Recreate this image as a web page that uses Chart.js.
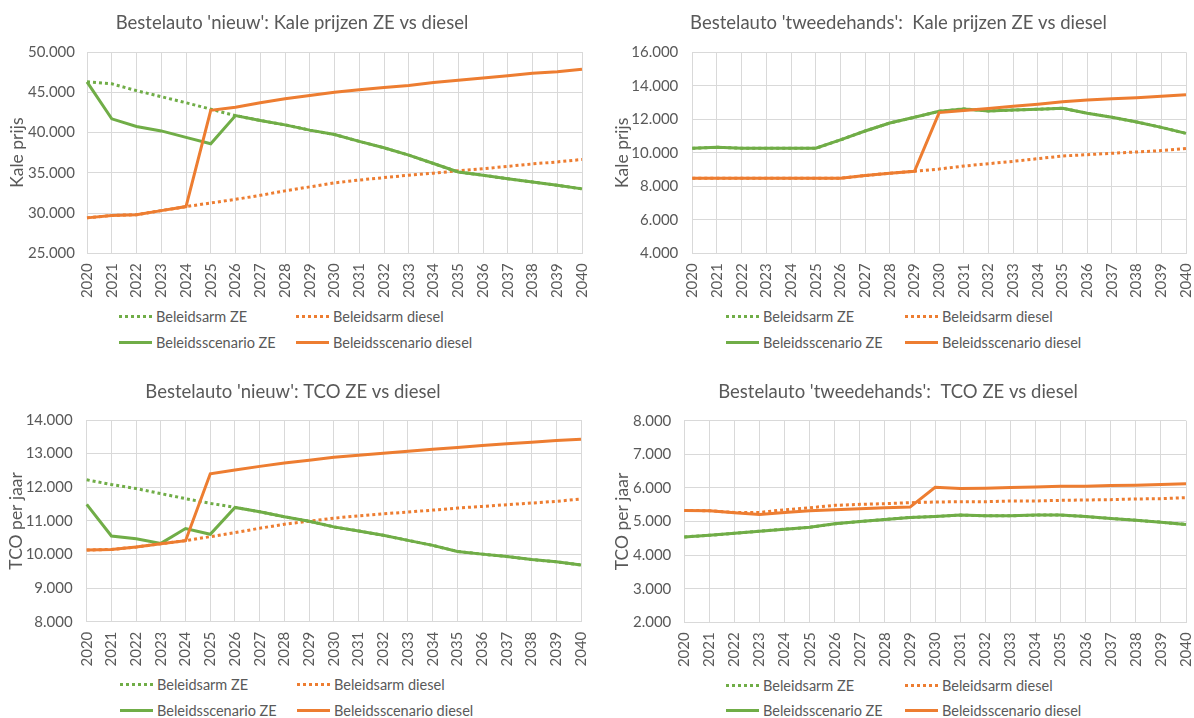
<!DOCTYPE html>
<html>
<head>
<meta charset="utf-8">
<script src="https://cdn.jsdelivr.net/npm/chart.js@4.4.1/dist/chart.umd.min.js"></script>
<style>
  body { margin: 0; background: #fff; font-family: Lato, sans-serif; }
  #page { position: relative; width: 1194px; height: 718px; overflow: hidden; background: #fff; }
  canvas { position: absolute; }
  .legend-item { position: absolute; display: flex; align-items: center; height: 20px;
                 font-size: 14.5px; color: #595959; white-space: nowrap; }
  .swatch { width: 33px; height: 3px; margin-right: 4px; }
</style>
</head>
<body>
<div id="page"></div>
<script>
const years = ["2020","2021","2022","2023","2024","2025","2026","2027","2028","2029","2030",
               "2031","2032","2033","2034","2035","2036","2037","2038","2039","2040"];

const seriesNames = ["Beleidsarm ZE", "Beleidsarm diesel", "Beleidsscenario ZE", "Beleidsscenario diesel"];

// Bestelauto 'nieuw': kale prijzen
const nieuwPrijsArmZE      = [46300, 46050, 45200, 44450, 43700, 42900, 42100, 41500, 40950, 40300, 39750, 38900, 38100, 37200, 36150, 35100, 34700, 34250, 33850, 33450, 33000];
const nieuwPrijsArmDiesel  = [29400, 29700, 29800, 30300, 30800, 31250, 31700, 32200, 32750, 33250, 33750, 34100, 34400, 34700, 34950, 35250, 35500, 35800, 36100, 36350, 36650];
const nieuwPrijsScenZE     = [46300, 41700, 40750, 40200, 39400, 38600, 42100, 41500, 40950, 40300, 39750, 38900, 38100, 37200, 36150, 35100, 34700, 34250, 33850, 33450, 33000];
const nieuwPrijsScenDiesel = [29400, 29700, 29800, 30300, 30800, 42750, 43150, 43700, 44200, 44600, 45000, 45300, 45600, 45850, 46200, 46480, 46770, 47050, 47350, 47550, 47850];

// Bestelauto 'tweedehands': kale prijzen
const tweedePrijsArmZE      = [10270, 10330, 10270, 10270, 10270, 10270, 10770, 11300, 11780, 12120, 12480, 12620, 12500, 12550, 12600, 12660, 12360, 12120, 11840, 11520, 11160];
const tweedePrijsArmDiesel  = [8480, 8480, 8480, 8480, 8480, 8480, 8480, 8640, 8780, 8900, 9030, 9210, 9350, 9490, 9650, 9810, 9890, 9970, 10050, 10130, 10250];
const tweedePrijsScenZE     = [10270, 10330, 10270, 10270, 10270, 10270, 10770, 11300, 11780, 12120, 12480, 12620, 12500, 12550, 12600, 12660, 12360, 12120, 11840, 11520, 11160];
const tweedePrijsScenDiesel = [8480, 8480, 8480, 8480, 8480, 8480, 8480, 8640, 8780, 8900, 12400, 12520, 12640, 12780, 12900, 13050, 13150, 13230, 13290, 13370, 13470];

// Bestelauto 'nieuw': TCO
const nieuwTcoArmZE      = [12220, 12080, 11960, 11810, 11660, 11520, 11400, 11270, 11120, 10990, 10820, 10700, 10570, 10420, 10270, 10090, 10010, 9940, 9850, 9780, 9690];
const nieuwTcoArmDiesel  = [10130, 10150, 10220, 10320, 10410, 10530, 10650, 10780, 10900, 10990, 11080, 11150, 11210, 11260, 11320, 11380, 11430, 11480, 11530, 11580, 11650];
const nieuwTcoScenZE     = [11490, 10550, 10470, 10330, 10770, 10600, 11400, 11270, 11120, 10990, 10820, 10700, 10570, 10420, 10270, 10090, 10010, 9940, 9850, 9780, 9690];
const nieuwTcoScenDiesel = [10130, 10150, 10220, 10320, 10410, 12400, 12510, 12620, 12720, 12800, 12890, 12950, 13010, 13070, 13130, 13180, 13240, 13290, 13340, 13390, 13430];

// Bestelauto 'tweedehands': TCO
const tweedeTcoArmZE      = [4540, 4590, 4650, 4710, 4770, 4830, 4930, 5000, 5060, 5120, 5150, 5190, 5170, 5170, 5190, 5190, 5150, 5090, 5040, 4980, 4910];
const tweedeTcoArmDiesel  = [5330, 5320, 5270, 5270, 5350, 5410, 5480, 5510, 5530, 5560, 5580, 5590, 5590, 5610, 5610, 5630, 5640, 5650, 5670, 5680, 5710];
const tweedeTcoScenZE     = [4540, 4590, 4650, 4710, 4770, 4830, 4930, 5000, 5060, 5120, 5150, 5190, 5170, 5170, 5190, 5190, 5150, 5090, 5040, 4980, 4910];
const tweedeTcoScenDiesel = [5330, 5320, 5260, 5210, 5270, 5320, 5350, 5380, 5410, 5430, 6020, 5980, 5990, 6010, 6030, 6050, 6050, 6070, 6080, 6100, 6120];

const GREEN = "#70ad47";
const ORANGE = "#ed7d31";
const TEXT = "#595959";
const GRID = "#d9d9d9";
const FONT = "Lato";

const panels = [
  {
    title: "Bestelauto 'nieuw': Kale prijzen ZE vs diesel", yTitle: "Kale prijs",
    min: 25000, max: 50000, step: 5000,
    data: [nieuwPrijsArmZE, nieuwPrijsArmDiesel, nieuwPrijsScenZE, nieuwPrijsScenDiesel],
    left: 2, top: 0, width: 590, height: 300, padRight: 10,
    yWidth: 85, xHeight: 46.7, titleTop: 11.9, titleBottom: 17.9, yTitlePad: 4.8, tickPad: 12,
    legendRows: [316, 342], legendCols: [119, 296]
  },
  {
    title: "Bestelauto 'tweedehands':  Kale prijzen ZE vs diesel", yTitle: "Kale prijs",
    min: 4000, max: 16000, step: 2000,
    data: [tweedePrijsArmZE, tweedePrijsArmDiesel, tweedePrijsScenZE, tweedePrijsScenDiesel],
    left: 611, top: 0, width: 582.7, height: 300, padRight: 8,
    yWidth: 81.3, xHeight: 46.7, titleTop: 11.9, titleBottom: 18.2, yTitlePad: 0.8, tickPad: 14,
    legendRows: [316, 342], legendCols: [726, 905]
  },
  {
    title: "Bestelauto 'nieuw': TCO ZE vs diesel", yTitle: "TCO per jaar",
    min: 8000, max: 14000, step: 1000,
    data: [nieuwTcoArmZE, nieuwTcoArmDiesel, nieuwTcoScenZE, nieuwTcoScenDiesel],
    left: 5, top: 370, width: 586, height: 300, padRight: 10,
    yWidth: 81.7, xHeight: 48.3, titleTop: 10.6, titleBottom: 17.2, yTitlePad: 1.2, tickPad: 14,
    legendRows: [684, 710], legendCols: [120, 297]
  },
  {
    title: "Bestelauto 'tweedehands':  TCO ZE vs diesel", yTitle: "TCO per jaar",
    min: 2000, max: 8000, step: 1000,
    data: [tweedeTcoArmZE, tweedeTcoArmDiesel, tweedeTcoScenZE, tweedeTcoScenDiesel],
    left: 610, top: 370, width: 583.7, height: 300, padRight: 8,
    yWidth: 74.3, xHeight: 47.7, titleTop: 10.9, titleBottom: 17.6, yTitlePad: 1.8, tickPad: 13,
    legendRows: [685, 710], legendCols: [726, 905]
  }
];

function formatThousands(v) {
  return String(v).replace(/\B(?=(\d{3})+(?!\d))/g, ".");
}

const seriesStyle = [
  { color: GREEN, dotted: true },
  { color: ORANGE, dotted: true },
  { color: GREEN, dotted: false },
  { color: ORANGE, dotted: false }
];

const page = document.getElementById("page");

function addLegend(p) {
  seriesNames.forEach((name, i) => {
    const st = seriesStyle[i];
    const item = document.createElement("div");
    item.className = "legend-item";
    item.style.left = p.legendCols[i % 2] + "px";
    item.style.top = (p.legendRows[Math.floor(i / 2)] - 10) + "px";
    const sw = document.createElement("span");
    sw.className = "swatch";
    sw.style.background = st.dotted
      ? `repeating-linear-gradient(90deg, ${st.color} 0 3px, transparent 3px 6px)`
      : st.color;
    const label = document.createElement("span");
    label.textContent = name;
    item.appendChild(sw);
    item.appendChild(label);
    page.appendChild(item);
  });
}

function makeChart(p) {
  const canvas = document.createElement("canvas");
  canvas.width = Math.round(p.width);
  canvas.height = p.height;
  canvas.style.left = p.left + "px";
  canvas.style.top = p.top + "px";
  page.appendChild(canvas);

  const datasets = p.data.map((values, i) => ({
    label: seriesNames[i],
    data: values,
    borderColor: seriesStyle[i].color,
    backgroundColor: seriesStyle[i].color,
    borderWidth: 3,
    borderDash: seriesStyle[i].dotted ? [3, 3] : [],
    pointRadius: 0,
    tension: 0,
    order: 3 - i
  }));

  new Chart(canvas.getContext("2d"), {
    type: "line",
    data: { labels: years, datasets: datasets },
    options: {
      responsive: false,
      animation: false,
      devicePixelRatio: 1,
      layout: { padding: { left: 0, right: p.padRight, top: 0, bottom: 0 } },
      plugins: {
        legend: { display: false },
        tooltip: { enabled: false },
        title: {
          display: true,
          text: p.title,
          color: TEXT,
          font: { family: FONT, size: 18.5, weight: "normal" },
          padding: { top: p.titleTop, bottom: p.titleBottom }
        }
      },
      scales: {
        x: {
          grid: { color: GRID, drawTicks: false },
          border: { color: GRID },
          ticks: {
            color: TEXT,
            font: { family: FONT, size: 15 },
            minRotation: 90,
            maxRotation: 90,
            autoSkip: false,
            padding: 10
          },
          afterFit: (scale) => {
            scale.height = p.xHeight;
            scale.paddingLeft = 0;
            scale.paddingRight = 0;
          }
        },
        y: {
          min: p.min,
          max: p.max,
          grid: { color: GRID, drawTicks: false },
          border: { color: GRID },
          ticks: {
            stepSize: p.step,
            color: TEXT,
            font: { family: FONT, size: 15 },
            padding: p.tickPad,
            callback: (v) => formatThousands(v)
          },
          title: {
            display: true,
            text: p.yTitle,
            color: TEXT,
            font: { family: FONT, size: 17.5 },
            padding: { top: p.yTitlePad, bottom: 0 }
          },
          afterFit: (scale) => {
            scale.width = p.yWidth;
            scale.paddingTop = 0;
            scale.paddingBottom = 0;
          }
        }
      }
    }
  });

  addLegend(p);
}

panels.forEach(makeChart);
</script>
</body>
</html>
